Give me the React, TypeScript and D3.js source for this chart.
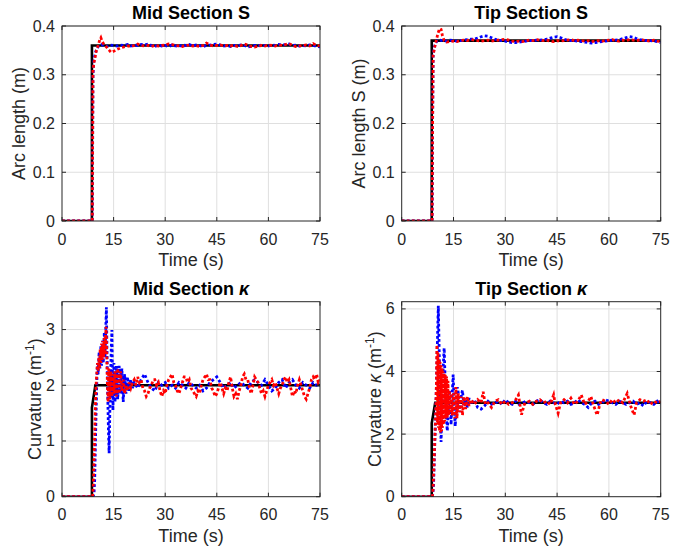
import React from 'react';
import * as d3 from 'd3';

type P = [number, number];

// ---------- tick labels ----------
const xTicks = [0, 15, 30, 45, 60, 75];
const sTicks = [0, 0.1, 0.2, 0.3, 0.4];
const midKTicks = [0, 1, 2, 3];
const tipKTicks = [0, 2, 4, 6];

// ---------- Mid Section S ----------
const midSRef: P[] = [[0, 0], [8.7, 0], [8.7, 0.36], [75, 0.36]];
const midSBlue: P[] = [
  [0, 0], [8.8, 0], [8.9, 0.15], [9.0, 0.3], [9.3, 0.33], [9.7, 0.345], [10.2, 0.355], [10.8, 0.36], [11.5, 0.362],
  [12, 0.36], [13, 0.358], [14, 0.361], [15, 0.36], [16, 0.359], [17, 0.361], [18, 0.36], [19, 0.362], [20, 0.359],
  [21, 0.361], [22, 0.36], [23, 0.362], [24, 0.361], [25, 0.363], [26, 0.36], [27, 0.358], [28, 0.361], [29, 0.359],
  [30, 0.36], [31, 0.358], [32, 0.361], [33, 0.359], [34, 0.358], [35, 0.361], [36, 0.36], [37, 0.362], [38, 0.359],
  [39, 0.361], [40, 0.36], [41, 0.358], [42, 0.36], [43, 0.361], [44, 0.362], [45, 0.363], [46, 0.361], [47, 0.359],
  [48, 0.36], [49, 0.358], [50, 0.36], [51, 0.359], [52, 0.361], [53, 0.36], [54, 0.357], [55, 0.358], [56, 0.36],
  [57, 0.359], [58, 0.361], [59, 0.36], [60, 0.359], [61, 0.361], [62, 0.36], [63, 0.362], [64, 0.361], [65, 0.362],
  [66, 0.363], [67, 0.36], [68, 0.361], [69, 0.359], [70, 0.36], [71, 0.359], [72, 0.361], [73, 0.36], [74, 0.358], [75, 0.357],
];
const midSRed: P[] = [
  [0, 0], [8.8, 0], [8.9, 0.15], [9.0, 0.31], [9.3, 0.325], [9.6, 0.335], [10, 0.35], [10.5, 0.36], [11, 0.372],
  [11.3, 0.376], [11.7, 0.368], [12.2, 0.362], [12.8, 0.358], [13.5, 0.352], [14.3, 0.346], [15, 0.348], [16, 0.352],
  [17, 0.355], [18, 0.357], [19, 0.359], [20, 0.358], [21, 0.36], [22, 0.363], [23, 0.36], [24, 0.359], [25, 0.36],
  [26, 0.358], [27, 0.36], [28, 0.359], [29, 0.36], [30, 0.361], [31, 0.363], [32, 0.362], [33, 0.36], [34, 0.359],
  [35, 0.358], [36, 0.36], [37, 0.361], [38, 0.359], [39, 0.36], [40, 0.358], [41, 0.36], [42, 0.365], [43, 0.361],
  [44, 0.359], [45, 0.36], [46, 0.361], [47, 0.359], [48, 0.36], [49, 0.359], [50, 0.361], [51, 0.358], [52, 0.36],
  [53, 0.363], [54, 0.361], [55, 0.358], [56, 0.357], [57, 0.359], [58, 0.36], [59, 0.359], [60, 0.361], [61, 0.36],
  [62, 0.359], [63, 0.361], [64, 0.36], [65, 0.362], [66, 0.364], [67, 0.36], [68, 0.358], [69, 0.359], [70, 0.36],
  [71, 0.361], [72, 0.359], [73, 0.364], [74, 0.36], [75, 0.359],
];

// ---------- Tip Section S ----------
const tipSRef: P[] = [[0, 0], [8.7, 0], [8.7, 0.37], [75, 0.37]];
const tipSBlue: P[] = [
  [0, 0], [8.8, 0], [8.95, 0.2], [9.1, 0.34], [9.4, 0.355], [9.8, 0.365], [10.3, 0.37], [11, 0.371], [12, 0.37],
  [13, 0.369], [14, 0.371], [15, 0.37], [16, 0.369], [17, 0.37], [18, 0.371], [19, 0.372], [20, 0.373], [21, 0.373],
  [22, 0.375], [23, 0.378], [24, 0.38], [25, 0.379], [26, 0.376], [27, 0.373], [28, 0.371], [29, 0.37], [30, 0.369],
  [31, 0.367], [32, 0.366], [33, 0.366], [34, 0.367], [35, 0.368], [36, 0.369], [37, 0.37], [38, 0.37], [39, 0.371],
  [40, 0.371], [41, 0.372], [42, 0.373], [43, 0.375], [44, 0.377], [45, 0.378], [46, 0.376], [47, 0.373], [48, 0.371],
  [49, 0.37], [50, 0.37], [51, 0.369], [52, 0.368], [53, 0.367], [54, 0.366], [55, 0.365], [56, 0.366], [57, 0.367],
  [58, 0.368], [59, 0.369], [60, 0.37], [61, 0.371], [62, 0.371], [63, 0.372], [64, 0.374], [65, 0.376], [66, 0.378],
  [67, 0.377], [68, 0.374], [69, 0.372], [70, 0.371], [71, 0.37], [72, 0.37], [73, 0.369], [74, 0.368], [75, 0.366],
];
const tipSRed: P[] = [
  [0, 0], [8.8, 0], [8.95, 0.2], [9.1, 0.34], [9.5, 0.355], [10, 0.37], [10.5, 0.385], [11, 0.395], [11.4, 0.393],
  [11.8, 0.38], [12.3, 0.37], [13, 0.367], [14, 0.368], [15, 0.369], [16, 0.368], [17, 0.37], [18, 0.371], [19, 0.37],
  [20, 0.372], [21, 0.371], [22, 0.37], [23, 0.369], [24, 0.37], [25, 0.371], [26, 0.369], [27, 0.37], [28, 0.371],
  [29, 0.372], [30, 0.373], [31, 0.371], [32, 0.369], [33, 0.368], [34, 0.369], [35, 0.368], [36, 0.37], [37, 0.371],
  [38, 0.37], [39, 0.372], [40, 0.371], [41, 0.37], [42, 0.371], [43, 0.369], [44, 0.368], [45, 0.37], [46, 0.369],
  [47, 0.37], [48, 0.371], [49, 0.372], [50, 0.37], [51, 0.371], [52, 0.37], [53, 0.369], [54, 0.37], [55, 0.368],
  [56, 0.369], [57, 0.37], [58, 0.369], [59, 0.37], [60, 0.371], [61, 0.372], [62, 0.37], [63, 0.369], [64, 0.371],
  [65, 0.37], [66, 0.372], [67, 0.371], [68, 0.37], [69, 0.372], [70, 0.371], [71, 0.37], [72, 0.369], [73, 0.371],
  [74, 0.369], [75, 0.368],
];

// ---------- Mid Section kappa ----------
const midKRef: P[] = [[0, 0], [8.7, 0], [8.7, 1.6], [9.7, 2.0], [75, 2.0]];
const midKBlue: P[] = [
  [0, 0], [9.0, 0], [9.3, 0.05], [9.5, 0.3], [9.7, 0.9], [9.9, 1.5], [10.1, 2.0], [10.3, 2.4], [10.5, 2.2], [10.8, 2.6],
  [11.0, 2.3], [11.3, 2.7], [11.5, 2.35], [11.8, 2.8], [12.0, 2.4], [12.3, 2.95], [12.5, 2.5], [12.9, 3.4], [13.2, 2.1],
  [13.5, 1.2], [13.7, 0.78], [14.0, 1.9], [14.3, 2.6], [14.5, 2.99], [14.8, 1.55], [15.1, 2.4], [15.4, 1.7], [15.8, 2.35],
  [16.2, 1.75], [16.6, 2.35], [17.0, 1.85], [17.4, 2.3], [17.8, 1.7], [18.2, 2.2], [18.6, 1.85], [19, 2.15], [19.5, 1.9],
  [20, 2.1], [20.5, 1.95], [21, 2.05], [22, 1.95], [23, 2.1], [24, 2.2], [25, 2.05], [26, 1.95], [27, 1.9], [28, 2.05],
  [29, 2.0], [30, 2.05], [31, 1.95], [32, 2.0], [33, 1.95], [34, 2.05], [35, 2.0], [36, 1.95], [37, 2.05], [38, 2.0],
  [39, 1.95], [40, 2.0], [41, 1.9], [42, 1.95], [43, 2.05], [44, 2.1], [45, 2.15], [46, 2.05], [47, 1.95], [48, 2.0],
  [49, 2.05], [50, 1.95], [51, 2.0], [52, 2.05], [53, 2.0], [54, 1.95], [55, 2.05], [56, 2.1], [57, 2.05], [58, 2.0],
  [59, 2.1], [60, 2.0], [61, 1.9], [62, 1.95], [63, 2.05], [64, 2.1], [65, 1.95], [66, 2.05], [67, 2.1], [68, 2.0],
  [69, 1.95], [70, 2.05], [71, 2.0], [72, 1.95], [73, 2.05], [74, 2.0], [75, 2.0],
];
const midKRed: P[] = [
  [0, 0], [8.9, 0], [9.1, 0.2], [9.3, 0.6], [9.5, 1.1], [9.7, 1.6], [9.9, 2.0], [10.1, 2.2], [10.3, 2.4], [10.5, 2.25],
  [10.7, 2.5], [10.9, 2.3], [11.1, 2.65], [11.3, 2.4], [11.5, 2.75], [11.7, 2.45], [11.9, 2.8], [12.1, 2.5], [12.3, 2.85],
  [12.5, 2.55], [12.8, 3.05], [13.0, 2.6], [13.2, 2.0], [13.4, 1.7], [13.6, 2.3], [13.9, 1.75], [14.2, 2.25], [14.5, 1.8],
  [14.8, 2.2], [15.1, 1.85], [15.4, 2.25], [15.8, 1.8], [16.2, 2.3], [16.6, 1.85], [17.0, 2.25], [17.4, 1.9], [17.8, 2.1],
  [18.2, 1.85], [18.6, 2.0], [19, 1.9], [19.5, 2.05],
  [20, 1.95], [20.5, 2.05], [21, 2.1], [21.5, 2.0], [22, 2.15], [22.5, 2.05], [23, 2.1], [23.5, 1.95], [24, 1.9],
  [24.5, 1.8], [25, 1.85], [25.5, 1.95], [26, 2.0], [26.5, 2.1], [27, 2.1], [27.5, 2.0], [28, 2.05], [28.5, 1.9],
  [29, 1.8], [29.5, 1.9], [30, 1.85], [30.5, 2.0], [31, 2.1], [31.5, 2.15], [32, 2.2], [32.5, 2.05], [33, 2.0],
  [33.5, 1.9], [34, 1.85], [34.5, 1.95], [35, 2.05], [35.5, 2.15], [36, 2.15], [36.5, 2.05], [37, 2.1], [37.5, 1.95],
  [38, 1.9], [38.5, 1.85], [39, 1.8], [39.5, 1.9], [40, 1.85], [40.5, 2.0], [41, 2.1], [41.5, 2.15], [42, 2.2],
  [42.5, 2.1], [43, 2.1], [43.5, 1.95], [44, 1.9], [44.5, 1.8], [45, 1.85], [45.5, 1.95], [46, 2.05], [46.5, 1.95],
  [47, 1.85], [47.5, 1.95], [48, 1.9], [48.5, 2.05], [49, 2.15], [49.5, 1.95], [50, 1.8], [50.5, 1.85], [51, 1.75],
  [51.5, 1.9], [52, 2.0], [52.5, 2.15], [53, 2.2], [53.5, 2.1], [54, 2.1], [54.5, 1.95], [55, 1.85], [55.5, 2.0],
  [56, 2.15], [56.5, 2.1], [57, 2.05], [57.5, 1.95], [58, 1.85], [58.5, 1.9], [59, 1.8], [59.5, 1.9], [60, 2.0],
  [60.5, 2.05], [61, 2.1], [61.5, 2.0], [62, 2.05], [62.5, 1.95], [63, 1.85], [63.5, 1.95], [64, 2.0], [64.5, 2.1],
  [65, 2.15], [65.5, 2.05], [66, 2.1], [66.5, 1.95], [67, 1.8], [67.5, 1.9], [68, 1.85], [68.5, 2.0], [69, 2.1],
  [69.5, 2.0], [70, 1.9], [70.5, 1.8], [71, 1.75], [71.5, 1.85], [72, 1.95], [72.5, 2.1], [73, 2.15], [73.5, 2.1],
  [74, 2.2], [74.5, 2.05], [75, 2.1],
];

// ---------- Tip Section kappa ----------
const tipKRef: P[] = [[0, 0], [8.7, 0], [8.7, 2.35], [9.7, 3.0], [75, 3.0]];
const tipKBlue: P[] = [
  [0, 0], [8.9, 0], [9.2, 0.3], [9.4, 1.0], [9.6, 1.8], [9.8, 2.5], [10.0, 3.3], [10.2, 4.2], [10.4, 5.2], [10.6, 6.1],
  [10.8, 5.0], [11.0, 3.8], [11.2, 2.6], [11.4, 1.75], [11.6, 2.5], [11.8, 3.3], [12.0, 4.1], [12.3, 4.75], [12.6, 3.6],
  [12.9, 2.6], [13.2, 2.1], [13.5, 2.8], [13.8, 3.4], [14.1, 3.0], [14.3, 2.3], [14.6, 3.2], [14.9, 3.9], [15.2, 3.0],
  [15.5, 2.25], [15.8, 2.8], [16.1, 3.5], [16.4, 3.3], [16.8, 2.7], [17.2, 3.2], [17.6, 3.4], [18, 2.9], [18.5, 3.1],
  [19, 2.85], [19.5, 3.15], [20, 2.95], [21, 3.1], [22, 2.85], [23, 2.8], [24, 2.9], [25, 3.05], [26, 2.95], [27, 3.0],
  [28, 3.05], [29, 2.95], [30, 3.1], [31, 3.0], [32, 2.95], [33, 3.05], [34, 2.95], [35, 3.0], [36, 3.05], [37, 3.0],
  [38, 2.95], [39, 3.05], [40, 3.1], [41, 3.0], [42, 2.95], [43, 3.05], [44, 3.0], [45, 2.95], [46, 3.05], [47, 3.0],
  [48, 3.05], [49, 2.95], [50, 3.0], [51, 3.1], [52, 3.0], [53, 2.95], [54, 2.85], [55, 3.0], [56, 3.05], [57, 2.95],
  [58, 3.0], [59, 3.1], [60, 3.05], [61, 3.0], [62, 2.95], [63, 3.05], [64, 3.0], [65, 2.95], [66, 3.0], [67, 3.05],
  [68, 2.95], [69, 3.0], [70, 2.9], [71, 3.05], [72, 3.0], [73, 2.95], [74, 3.05], [75, 2.95],
];
const tipKRed: P[] = [
  [0, 0], [8.9, 0], [9.1, 0.3], [9.3, 0.9], [9.5, 1.5], [9.7, 2.2], [9.9, 2.9], [10.05, 3.6], [10.2, 4.85], [10.35, 2.3],
  [10.5, 4.6], [10.65, 2.2], [10.8, 4.4], [10.95, 2.1], [11.1, 4.3], [11.25, 2.05], [11.4, 4.2], [11.55, 2.1], [11.7, 4.1],
  [11.85, 2.2], [12.0, 4.0], [12.15, 2.3], [12.3, 3.95], [12.45, 2.4], [12.6, 3.9], [12.8, 2.5], [13.0, 3.85], [13.2, 2.5],
  [13.4, 3.7], [13.6, 2.6], [13.8, 3.4], [14.0, 2.7], [14.3, 3.3], [14.6, 2.6], [15.0, 3.3], [15.4, 2.5], [15.7, 3.5],
  [16.0, 2.5], [16.4, 3.3], [16.8, 2.7], [17.2, 3.2], [17.6, 2.6], [18.0, 3.2], [18.5, 2.8], [19, 3.2], [19.5, 2.9],
  [20, 3.1], [21, 2.95], [22, 3.1], [23, 3.0], [23.6, 3.35], [24.2, 2.95], [25, 3.0], [26, 2.85], [27, 3.05], [28, 3.1],
  [29, 2.95], [30, 3.05], [31, 2.95], [32, 3.0], [33, 3.1], [33.8, 3.25], [34.7, 2.62], [35.5, 2.95], [36, 3.0],
  [37, 3.05], [38, 2.95], [39, 3.05], [40, 3.1], [41, 3.0], [42, 3.05], [43, 2.95], [44, 3.25], [44.5, 2.95], [45.3, 2.67],
  [46, 3.0], [47, 3.1], [48, 3.0], [49, 3.15], [50, 2.95], [51, 3.05], [52, 3.25], [53, 2.95], [54, 3.05], [54.8, 3.2],
  [55.6, 2.9], [56.6, 2.61], [57.5, 3.0], [58, 3.1], [59, 3.05], [60, 2.95], [61, 3.1], [62, 3.0], [63, 3.1], [64, 3.0],
  [65.3, 3.3], [66.3, 2.9], [67.3, 2.61], [68, 3.0], [69, 3.1], [70, 3.05], [71, 3.1], [72, 2.95], [73, 3.05], [74, 3.0],
  [75, 3.05],
];

const FONT = "'Liberation Sans', Arial, Helvetica, sans-serif";
const AXIS = '#262626';
const TICK_FS = 16;
const LABEL_FS = 18;

interface PanelProps {
  id: string;
  x0: number; x1: number; y0: number; y1: number;
  yMax: number;
  yTicks: number[];
  yFmt: (v: number) => string;
  title: React.ReactNode;
  ylabel: React.ReactNode;
  ylabelX: number;
  refData: P[]; blue: P[]; red: P[];
}

function Panel(p: PanelProps) {
  const x = d3.scaleLinear().domain([0, 75]).range([p.x0, p.x1]);
  const y = d3.scaleLinear().domain([0, p.yMax]).range([p.y1, p.y0]);
  const line = d3.line<P>().x(d => x(d[0])).y(d => y(d[1]));
  const tl = 4;
  const cx = (p.x0 + p.x1) / 2;
  const cy = (p.y0 + p.y1) / 2;
  return (
    <g>
      <defs>
        <clipPath id={`clip-${p.id}`}>
          <rect x={p.x0} y={p.y0} width={p.x1 - p.x0} height={p.y1 - p.y0} />
        </clipPath>
      </defs>
      <rect x={p.x0} y={p.y0} width={p.x1 - p.x0} height={p.y1 - p.y0} fill="#fff" />
      {xTicks.slice(1, -1).map(t => (
        <line key={`gx${t}`} x1={x(t)} x2={x(t)} y1={p.y0} y2={p.y1} stroke="#dfdfdf" strokeWidth={1} />
      ))}
      {p.yTicks.slice(1).map(t => (
        <line key={`gy${t}`} x1={p.x0} x2={p.x1} y1={y(t)} y2={y(t)} stroke="#dfdfdf" strokeWidth={1} />
      ))}
      <g clipPath={`url(#clip-${p.id})`}>
        <path d={line(p.refData) || ''} fill="none" stroke="#000" strokeWidth={2.6} />
        <path d={line(p.blue) || ''} fill="none" stroke="#0000ff" strokeWidth={2.8} strokeDasharray="2.8 2.3" />
        <path d={line(p.red) || ''} fill="none" stroke="#ff0000" strokeWidth={2.8} strokeDasharray="2.8 2.3" />
      </g>
      <rect x={p.x0} y={p.y0} width={p.x1 - p.x0} height={p.y1 - p.y0} fill="none" stroke={AXIS} strokeWidth={1} />
      {xTicks.map(t => (
        <g key={`tx${t}`}>
          <line x1={x(t)} x2={x(t)} y1={p.y1} y2={p.y1 - tl} stroke={AXIS} />
          <line x1={x(t)} x2={x(t)} y1={p.y0} y2={p.y0 + tl} stroke={AXIS} />
          <text x={x(t)} y={p.y1 + 23.5} textAnchor="middle" fontSize={TICK_FS} fill={AXIS}>{t}</text>
        </g>
      ))}
      {p.yTicks.map(t => (
        <g key={`ty${t}`}>
          <line x1={p.x0} x2={p.x0 + tl} y1={y(t)} y2={y(t)} stroke={AXIS} />
          <line x1={p.x1} x2={p.x1 - tl} y1={y(t)} y2={y(t)} stroke={AXIS} />
          <text x={p.x0 - 7} y={y(t) + 5.5} textAnchor="end" fontSize={TICK_FS} fill={AXIS}>{p.yFmt(t)}</text>
        </g>
      ))}
      <text x={cx} y={p.y1 + 45} textAnchor="middle" fontSize={LABEL_FS} fill={AXIS}>Time (s)</text>
      <text x={cx} y={p.y0 - 7} textAnchor="middle" fontSize={LABEL_FS} fontWeight="bold" fill="#000">{p.title}</text>
      <text transform={`translate(${p.ylabelX},${cy}) rotate(-90)`} textAnchor="middle" fontSize={LABEL_FS} fill={AXIS}>{p.ylabel}</text>
    </g>
  );
}

const fmtS = (v: number) => (v === 0 ? '0' : v.toFixed(1));
const fmtK = (v: number) => String(v);

export default function App() {
  const sup = (
    <>
      <tspan dy={-7} fontSize={12}>-1</tspan>
      <tspan dy={7}>)</tspan>
    </>
  );
  return (
    <svg width={685} height={553} style={{ position: 'absolute', left: 0, top: 0, background: '#fff' }} fontFamily={FONT}>
      <rect x={0} y={0} width={685} height={553} fill="#fff" />
      <Panel id="a" x0={62} x1={320} y0={26} y1={221} yMax={0.4} yTicks={sTicks} yFmt={fmtS}
        title="Mid Section S" ylabel="Arc length (m)" ylabelX={25}
        refData={midSRef} blue={midSBlue} red={midSRed} />
      <Panel id="b" x0={401.7} x1={660.7} y0={26} y1={221} yMax={0.4} yTicks={sTicks} yFmt={fmtS}
        title="Tip Section S" ylabel="Arc length S (m)" ylabelX={365}
        refData={tipSRef} blue={tipSBlue} red={tipSRed} />
      <Panel id="c" x0={62} x1={320} y0={301.7} y1={496.7} yMax={3.5} yTicks={midKTicks} yFmt={fmtK}
        title={<>Mid Section <tspan fontStyle="italic">κ</tspan></>}
        ylabel={<>Curvature (m{sup}</>} ylabelX={41}
        refData={midKRef} blue={midKBlue} red={midKRed} />
      <Panel id="d" x0={401.7} x1={660.7} y0={301.7} y1={496.7} yMax={6.23} yTicks={tipKTicks} yFmt={fmtK}
        title={<>Tip Section <tspan fontStyle="italic">κ</tspan></>}
        ylabel={<>Curvature <tspan fontStyle="italic">κ</tspan> (m{sup}</>} ylabelX={381}
        refData={tipKRef} blue={tipKBlue} red={tipKRed} />
    </svg>
  );
}
